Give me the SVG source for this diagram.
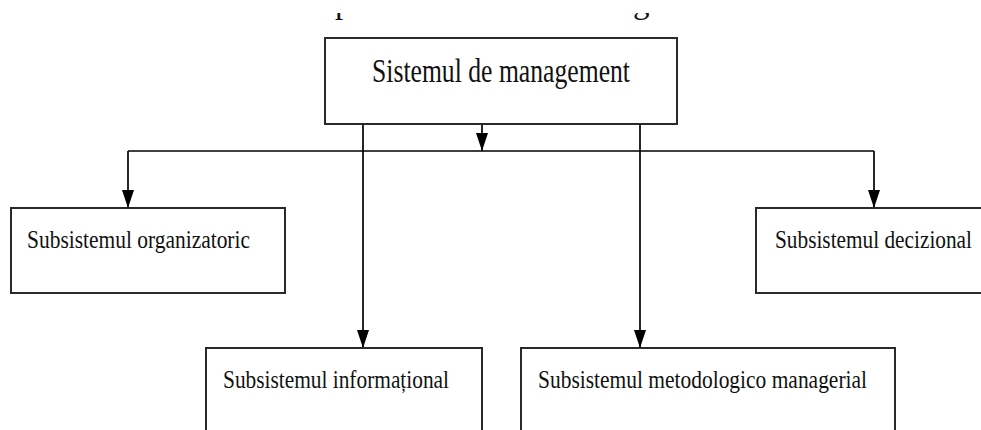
<svg xmlns="http://www.w3.org/2000/svg" width="981" height="430" viewBox="0 0 981 430">
  <defs>
    <style>
      .box { fill: #ffffff; stroke: #2a2a2a; stroke-width: 2; }
      .lbl { font-family: "Liberation Serif", "Times New Roman", serif; fill: #111111; }
      .big { font-size: 33px; }
      .sm { font-size: 26px; }
      .conn { fill: none; stroke: #000000; stroke-width: 1.7; }
    </style>
    <marker id="arr" markerWidth="18" markerHeight="12" refX="18" refY="6" orient="auto" markerUnits="userSpaceOnUse" viewBox="0 0 18 12">
      <path d="M0,0 L18,6 L0,12 Z" fill="#000000"/>
    </marker>
    <clipPath id="topclip">
      <rect x="0" y="13" width="981" height="10"/>
    </clipPath>
  </defs>
  <rect width="981" height="430" fill="#ffffff"/>

  <g id="title-fragment" clip-path="url(#topclip)">
    <text class="lbl big" x="335" y="13">p</text>
    <text class="lbl big" x="633" y="13">g</text>
  </g>

  <g id="connectors">
    <path class="conn" d="M128,151 L874,151"/>
    <path class="conn" d="M482,124 L482,151" marker-end="url(#arr)"/>
    <path class="conn" d="M128,151 L128,208" marker-end="url(#arr)"/>
    <path class="conn" d="M874,151 L874,208" marker-end="url(#arr)"/>
    <path class="conn" d="M363,124 L363,348" marker-end="url(#arr)"/>
    <path class="conn" d="M640,124 L640,348" marker-end="url(#arr)"/>
  </g>

  <g id="sistemul">
    <rect class="box" x="325" y="38" width="352" height="86"/>
    <text class="lbl big" x="372" y="82" textLength="258" lengthAdjust="spacingAndGlyphs">Sistemul de management</text>
  </g>

  <g id="organizatoric">
    <rect class="box" x="11" y="208" width="274" height="85"/>
    <text class="lbl sm" x="27" y="248" textLength="223" lengthAdjust="spacingAndGlyphs">Subsistemul organizatoric</text>
  </g>

  <g id="decizional">
    <rect class="box" x="756" y="208" width="240" height="85"/>
    <text class="lbl sm" x="775" y="248" textLength="197" lengthAdjust="spacingAndGlyphs">Subsistemul decizional</text>
  </g>

  <g id="informational">
    <rect class="box" x="206" y="348" width="276" height="100"/>
    <text class="lbl sm" x="223" y="388" textLength="226" lengthAdjust="spacingAndGlyphs">Subsistemul informațional</text>
  </g>

  <g id="metodologico">
    <rect class="box" x="521" y="348" width="374" height="100"/>
    <text class="lbl sm" x="538" y="388" textLength="329" lengthAdjust="spacingAndGlyphs">Subsistemul metodologico managerial</text>
  </g>
</svg>
